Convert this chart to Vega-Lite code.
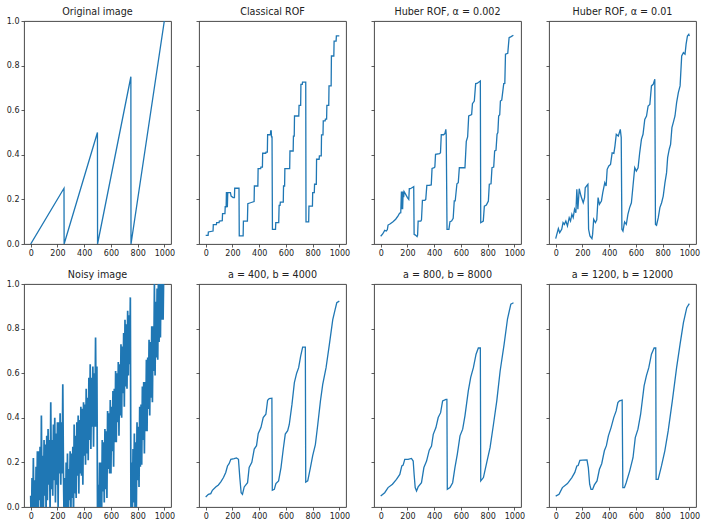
{
  "$schema": "https://vega.github.io/schema/vega-lite/v6.json",
  "padding": {"left": 5, "top": 6, "right": 5, "bottom": 5},
  "background": "white",
  "config": {
    "view": {"stroke": "#333333", "strokeWidth": 0.9},
    "axis": {"grid": false, "domain": false, "tickColor": "#333333", "tickSize": 3, "tickWidth": 0.8, "labelFont": "DejaVu Sans", "labelFontSize": 8, "labelColor": "#222222", "labelPadding": 2, "title": null},
    "title": {"font": "DejaVu Sans", "fontSize": 9.6, "fontWeight": "normal", "color": "#222222", "offset": 4},
    "line": {"color": "#1f77b4", "strokeWidth": 1.3}
  },
  "datasets": {
    "orig": [
      {"x": 0, "y": 0}, {"x": 249, "y": 0.25}, {"x": 250, "y": 0}, {"x": 499, "y": 0.5},
      {"x": 500, "y": 0}, {"x": 749, "y": 0.75}, {"x": 750, "y": 0}, {"x": 999, "y": 1.0}
    ],
    "noisy": [
      {"x": 0, "y": 0.05}, {"x": 5, "y": -0.12}, {"x": 10, "y": 0.13}, {"x": 15, "y": -0.07}, {"x": 20, "y": 0.22},
      {"x": 25, "y": -0.08}, {"x": 30, "y": 0.12}, {"x": 35, "y": -0.12}, {"x": 40, "y": 0.18}, {"x": 45, "y": 0.0},
      {"x": 50, "y": 0.25}, {"x": 55, "y": -0.07}, {"x": 60, "y": 0.25}, {"x": 65, "y": 0.03}, {"x": 70, "y": 0.27},
      {"x": 75, "y": -0.09}, {"x": 80, "y": 0.41}, {"x": 85, "y": 0.0}, {"x": 90, "y": 0.23}, {"x": 95, "y": -0.04},
      {"x": 100, "y": 0.3}, {"x": 105, "y": 0.05}, {"x": 110, "y": 0.28}, {"x": 115, "y": -0.04}, {"x": 120, "y": 0.32},
      {"x": 125, "y": 0.03}, {"x": 130, "y": 0.35}, {"x": 135, "y": 0.1}, {"x": 140, "y": 0.3}, {"x": 145, "y": -0.03},
      {"x": 150, "y": 0.47}, {"x": 155, "y": 0.08}, {"x": 160, "y": 0.3}, {"x": 165, "y": 0.05}, {"x": 170, "y": 0.37},
      {"x": 175, "y": 0.12}, {"x": 180, "y": 0.4}, {"x": 185, "y": 0.02}, {"x": 190, "y": 0.33}, {"x": 195, "y": 0.1},
      {"x": 200, "y": 0.38}, {"x": 205, "y": 0.0}, {"x": 210, "y": 0.38}, {"x": 215, "y": 0.15}, {"x": 220, "y": 0.42},
      {"x": 225, "y": 0.1}, {"x": 230, "y": 0.38}, {"x": 235, "y": 0.15}, {"x": 240, "y": 0.55}, {"x": 245, "y": 0.15},
      {"x": 250, "y": -0.08}, {"x": 255, "y": 0.13}, {"x": 260, "y": -0.13}, {"x": 265, "y": 0.2}, {"x": 270, "y": -0.06},
      {"x": 275, "y": 0.24}, {"x": 280, "y": -0.08}, {"x": 285, "y": 0.17}, {"x": 290, "y": 0.03}, {"x": 295, "y": 0.25},
      {"x": 300, "y": -0.08}, {"x": 305, "y": 0.24}, {"x": 310, "y": 0.04}, {"x": 315, "y": 0.27}, {"x": 320, "y": -0.06},
      {"x": 325, "y": 0.37}, {"x": 330, "y": 0.06}, {"x": 335, "y": 0.32}, {"x": 340, "y": 0.04}, {"x": 345, "y": 0.38},
      {"x": 350, "y": 0.14}, {"x": 355, "y": 0.41}, {"x": 360, "y": 0.06}, {"x": 365, "y": 0.39}, {"x": 370, "y": 0.15},
      {"x": 375, "y": 0.45}, {"x": 380, "y": 0.14}, {"x": 385, "y": 0.44}, {"x": 390, "y": 0.1}, {"x": 395, "y": 0.47},
      {"x": 400, "y": 0.23}, {"x": 405, "y": 0.46}, {"x": 410, "y": 0.19}, {"x": 415, "y": 0.53}, {"x": 420, "y": 0.24},
      {"x": 425, "y": 0.49}, {"x": 430, "y": 0.21}, {"x": 435, "y": 0.58}, {"x": 440, "y": 0.3}, {"x": 445, "y": 0.64},
      {"x": 450, "y": 0.26}, {"x": 455, "y": 0.58}, {"x": 460, "y": 0.36}, {"x": 465, "y": 0.63}, {"x": 470, "y": 0.27},
      {"x": 475, "y": 0.6}, {"x": 480, "y": 0.36}, {"x": 485, "y": 0.76}, {"x": 490, "y": 0.36}, {"x": 495, "y": 0.63},
      {"x": 500, "y": -0.1}, {"x": 505, "y": 0.1}, {"x": 510, "y": -0.11}, {"x": 515, "y": 0.2}, {"x": 520, "y": -0.03},
      {"x": 525, "y": 0.2}, {"x": 530, "y": -0.07}, {"x": 535, "y": 0.3}, {"x": 540, "y": 0.07}, {"x": 545, "y": 0.29},
      {"x": 550, "y": 0.02}, {"x": 555, "y": 0.35}, {"x": 560, "y": 0.08}, {"x": 565, "y": 0.34}, {"x": 570, "y": 0.04},
      {"x": 575, "y": 0.43}, {"x": 580, "y": 0.17}, {"x": 585, "y": 0.42}, {"x": 590, "y": 0.15}, {"x": 595, "y": 0.48},
      {"x": 600, "y": 0.15}, {"x": 605, "y": 0.45}, {"x": 610, "y": 0.25}, {"x": 615, "y": 0.52}, {"x": 620, "y": 0.18},
      {"x": 625, "y": 0.53}, {"x": 630, "y": 0.29}, {"x": 635, "y": 0.61}, {"x": 640, "y": 0.29}, {"x": 645, "y": 0.6},
      {"x": 650, "y": 0.38}, {"x": 655, "y": 0.65}, {"x": 660, "y": 0.32}, {"x": 665, "y": 0.64}, {"x": 670, "y": 0.41},
      {"x": 675, "y": 0.73}, {"x": 680, "y": 0.4}, {"x": 685, "y": 0.72}, {"x": 690, "y": 0.51}, {"x": 695, "y": 0.78},
      {"x": 700, "y": 0.45}, {"x": 705, "y": 0.84}, {"x": 710, "y": 0.54}, {"x": 715, "y": 0.82}, {"x": 720, "y": 0.53},
      {"x": 725, "y": 0.88}, {"x": 730, "y": 0.59}, {"x": 735, "y": 0.86}, {"x": 740, "y": 0.64}, {"x": 745, "y": 0.94},
      {"x": 750, "y": -0.1}, {"x": 755, "y": 0.2}, {"x": 760, "y": -0.08}, {"x": 765, "y": 0.26}, {"x": 770, "y": 0.02},
      {"x": 775, "y": 0.33}, {"x": 780, "y": -0.02}, {"x": 785, "y": 0.29}, {"x": 790, "y": -0.01}, {"x": 795, "y": 0.38},
      {"x": 800, "y": 0.12}, {"x": 805, "y": 0.36}, {"x": 810, "y": 0.09}, {"x": 815, "y": 0.45}, {"x": 820, "y": 0.18},
      {"x": 825, "y": 0.46}, {"x": 830, "y": 0.19}, {"x": 835, "y": 0.54}, {"x": 840, "y": 0.3}, {"x": 845, "y": 0.56},
      {"x": 850, "y": 0.24}, {"x": 855, "y": 0.56}, {"x": 860, "y": 0.34}, {"x": 865, "y": 0.66}, {"x": 870, "y": 0.34},
      {"x": 875, "y": 0.67}, {"x": 880, "y": 0.44}, {"x": 885, "y": 0.75}, {"x": 890, "y": 0.41}, {"x": 895, "y": 0.74},
      {"x": 900, "y": 0.49}, {"x": 905, "y": 0.81}, {"x": 910, "y": 0.47}, {"x": 915, "y": 0.81}, {"x": 920, "y": 0.61},
      {"x": 925, "y": 1.0}, {"x": 930, "y": 0.59}, {"x": 935, "y": 0.92}, {"x": 940, "y": 0.67}, {"x": 945, "y": 0.98},
      {"x": 950, "y": 0.66}, {"x": 955, "y": 1.04}, {"x": 960, "y": 0.74}, {"x": 965, "y": 1.03}, {"x": 970, "y": 0.76},
      {"x": 975, "y": 1.1}, {"x": 980, "y": 0.84}, {"x": 985, "y": 1.09}, {"x": 990, "y": 0.84}, {"x": 995, "y": 1.08}
    ],
    "rof": [
      {"x": 0, "y": 0.039}, {"x": 18, "y": 0.039}, {"x": 20, "y": 0.054}, {"x": 55, "y": 0.058}, {"x": 57, "y": 0.087},
      {"x": 80, "y": 0.087}, {"x": 82, "y": 0.096}, {"x": 100, "y": 0.096}, {"x": 102, "y": 0.103}, {"x": 124, "y": 0.105},
      {"x": 126, "y": 0.136}, {"x": 144, "y": 0.136}, {"x": 146, "y": 0.167}, {"x": 153, "y": 0.167}, {"x": 155, "y": 0.233},
      {"x": 157, "y": 0.17}, {"x": 160, "y": 0.233}, {"x": 162, "y": 0.165}, {"x": 165, "y": 0.23}, {"x": 185, "y": 0.23},
      {"x": 190, "y": 0.215}, {"x": 205, "y": 0.208}, {"x": 215, "y": 0.208}, {"x": 217, "y": 0.25}, {"x": 249, "y": 0.25},
      {"x": 251, "y": 0.036}, {"x": 280, "y": 0.036}, {"x": 282, "y": 0.103}, {"x": 312, "y": 0.103}, {"x": 315, "y": 0.181},
      {"x": 335, "y": 0.185}, {"x": 362, "y": 0.19}, {"x": 364, "y": 0.26}, {"x": 390, "y": 0.26}, {"x": 392, "y": 0.338},
      {"x": 411, "y": 0.338}, {"x": 413, "y": 0.345}, {"x": 424, "y": 0.345}, {"x": 426, "y": 0.407}, {"x": 449, "y": 0.407},
      {"x": 451, "y": 0.412}, {"x": 461, "y": 0.412}, {"x": 463, "y": 0.49}, {"x": 484, "y": 0.49}, {"x": 486, "y": 0.507},
      {"x": 490, "y": 0.507}, {"x": 492, "y": 0.48}, {"x": 496, "y": 0.48}, {"x": 499, "y": 0.066}, {"x": 522, "y": 0.066},
      {"x": 524, "y": 0.096}, {"x": 546, "y": 0.096}, {"x": 549, "y": 0.173}, {"x": 556, "y": 0.173}, {"x": 558, "y": 0.188},
      {"x": 580, "y": 0.188}, {"x": 582, "y": 0.26}, {"x": 590, "y": 0.26}, {"x": 592, "y": 0.338}, {"x": 628, "y": 0.338},
      {"x": 630, "y": 0.417}, {"x": 654, "y": 0.417}, {"x": 656, "y": 0.484}, {"x": 662, "y": 0.484}, {"x": 664, "y": 0.574},
      {"x": 696, "y": 0.574}, {"x": 698, "y": 0.622}, {"x": 710, "y": 0.622}, {"x": 712, "y": 0.716}, {"x": 722, "y": 0.716},
      {"x": 724, "y": 0.726}, {"x": 748, "y": 0.726}, {"x": 750, "y": 0.099}, {"x": 770, "y": 0.099}, {"x": 772, "y": 0.17},
      {"x": 798, "y": 0.17}, {"x": 800, "y": 0.23}, {"x": 812, "y": 0.23}, {"x": 814, "y": 0.268}, {"x": 827, "y": 0.268},
      {"x": 829, "y": 0.38}, {"x": 848, "y": 0.38}, {"x": 850, "y": 0.395}, {"x": 864, "y": 0.395}, {"x": 866, "y": 0.489},
      {"x": 877, "y": 0.489}, {"x": 879, "y": 0.552}, {"x": 893, "y": 0.552}, {"x": 895, "y": 0.56}, {"x": 904, "y": 0.56},
      {"x": 906, "y": 0.622}, {"x": 920, "y": 0.622}, {"x": 922, "y": 0.709}, {"x": 938, "y": 0.709}, {"x": 940, "y": 0.843},
      {"x": 958, "y": 0.843}, {"x": 960, "y": 0.91}, {"x": 975, "y": 0.91}, {"x": 977, "y": 0.933}, {"x": 999, "y": 0.933}
    ],
    "huber002": [
      {"x": 0, "y": 0.035}, {"x": 15, "y": 0.045}, {"x": 30, "y": 0.061}, {"x": 42, "y": 0.058}, {"x": 50, "y": 0.065},
      {"x": 55, "y": 0.085}, {"x": 72, "y": 0.091}, {"x": 92, "y": 0.1}, {"x": 112, "y": 0.111}, {"x": 130, "y": 0.126},
      {"x": 142, "y": 0.139}, {"x": 150, "y": 0.14}, {"x": 155, "y": 0.235}, {"x": 158, "y": 0.156}, {"x": 161, "y": 0.235},
      {"x": 164, "y": 0.156}, {"x": 168, "y": 0.235}, {"x": 172, "y": 0.21}, {"x": 175, "y": 0.235}, {"x": 185, "y": 0.225},
      {"x": 200, "y": 0.208}, {"x": 210, "y": 0.2}, {"x": 214, "y": 0.248}, {"x": 222, "y": 0.248}, {"x": 247, "y": 0.257},
      {"x": 250, "y": 0.043}, {"x": 260, "y": 0.04}, {"x": 272, "y": 0.033}, {"x": 276, "y": 0.04}, {"x": 280, "y": 0.103},
      {"x": 300, "y": 0.103}, {"x": 305, "y": 0.108}, {"x": 312, "y": 0.196}, {"x": 330, "y": 0.196}, {"x": 337, "y": 0.2},
      {"x": 345, "y": 0.263}, {"x": 362, "y": 0.263}, {"x": 378, "y": 0.265}, {"x": 384, "y": 0.339}, {"x": 400, "y": 0.342},
      {"x": 405, "y": 0.345}, {"x": 410, "y": 0.402}, {"x": 440, "y": 0.405}, {"x": 447, "y": 0.409}, {"x": 453, "y": 0.49},
      {"x": 470, "y": 0.49}, {"x": 480, "y": 0.495}, {"x": 487, "y": 0.514}, {"x": 490, "y": 0.49}, {"x": 496, "y": 0.066},
      {"x": 510, "y": 0.066}, {"x": 518, "y": 0.1}, {"x": 530, "y": 0.103}, {"x": 542, "y": 0.115}, {"x": 550, "y": 0.193},
      {"x": 557, "y": 0.193}, {"x": 570, "y": 0.27}, {"x": 580, "y": 0.275}, {"x": 588, "y": 0.342}, {"x": 630, "y": 0.342},
      {"x": 640, "y": 0.46}, {"x": 650, "y": 0.48}, {"x": 658, "y": 0.574}, {"x": 680, "y": 0.58}, {"x": 686, "y": 0.629},
      {"x": 700, "y": 0.641}, {"x": 710, "y": 0.719}, {"x": 720, "y": 0.72}, {"x": 745, "y": 0.731}, {"x": 748, "y": 0.096},
      {"x": 760, "y": 0.1}, {"x": 767, "y": 0.103}, {"x": 775, "y": 0.17}, {"x": 790, "y": 0.175}, {"x": 805, "y": 0.193},
      {"x": 812, "y": 0.268}, {"x": 825, "y": 0.27}, {"x": 832, "y": 0.342}, {"x": 845, "y": 0.345}, {"x": 852, "y": 0.417},
      {"x": 862, "y": 0.42}, {"x": 870, "y": 0.492}, {"x": 876, "y": 0.5}, {"x": 882, "y": 0.574}, {"x": 890, "y": 0.58},
      {"x": 895, "y": 0.641}, {"x": 905, "y": 0.645}, {"x": 920, "y": 0.719}, {"x": 928, "y": 0.72}, {"x": 933, "y": 0.851},
      {"x": 950, "y": 0.855}, {"x": 960, "y": 0.925}, {"x": 975, "y": 0.93}, {"x": 992, "y": 0.936}
    ],
    "huber01": [
      {"x": 0, "y": 0.024}, {"x": 20, "y": 0.069}, {"x": 30, "y": 0.051}, {"x": 45, "y": 0.066}, {"x": 55, "y": 0.096},
      {"x": 65, "y": 0.088}, {"x": 76, "y": 0.103}, {"x": 88, "y": 0.081}, {"x": 101, "y": 0.118}, {"x": 111, "y": 0.103},
      {"x": 121, "y": 0.133}, {"x": 131, "y": 0.118}, {"x": 141, "y": 0.156}, {"x": 151, "y": 0.14}, {"x": 158, "y": 0.245},
      {"x": 166, "y": 0.156}, {"x": 176, "y": 0.248}, {"x": 189, "y": 0.215}, {"x": 206, "y": 0.185}, {"x": 216, "y": 0.208},
      {"x": 221, "y": 0.252}, {"x": 234, "y": 0.263}, {"x": 241, "y": 0.268}, {"x": 246, "y": 0.066}, {"x": 256, "y": 0.036},
      {"x": 271, "y": 0.024}, {"x": 276, "y": 0.043}, {"x": 284, "y": 0.111}, {"x": 297, "y": 0.096}, {"x": 307, "y": 0.108},
      {"x": 317, "y": 0.208}, {"x": 327, "y": 0.178}, {"x": 342, "y": 0.193}, {"x": 352, "y": 0.23}, {"x": 367, "y": 0.275},
      {"x": 377, "y": 0.26}, {"x": 385, "y": 0.335}, {"x": 397, "y": 0.35}, {"x": 410, "y": 0.357}, {"x": 422, "y": 0.409},
      {"x": 435, "y": 0.406}, {"x": 443, "y": 0.439}, {"x": 453, "y": 0.492}, {"x": 468, "y": 0.484}, {"x": 483, "y": 0.514},
      {"x": 490, "y": 0.477}, {"x": 495, "y": 0.066}, {"x": 503, "y": 0.058}, {"x": 515, "y": 0.099}, {"x": 528, "y": 0.088},
      {"x": 540, "y": 0.133}, {"x": 553, "y": 0.163}, {"x": 566, "y": 0.185}, {"x": 578, "y": 0.26}, {"x": 591, "y": 0.342},
      {"x": 603, "y": 0.327}, {"x": 616, "y": 0.342}, {"x": 628, "y": 0.409}, {"x": 641, "y": 0.469}, {"x": 653, "y": 0.492},
      {"x": 666, "y": 0.559}, {"x": 679, "y": 0.574}, {"x": 691, "y": 0.619}, {"x": 704, "y": 0.626}, {"x": 716, "y": 0.709},
      {"x": 729, "y": 0.716}, {"x": 741, "y": 0.739}, {"x": 746, "y": 0.088}, {"x": 754, "y": 0.084}, {"x": 767, "y": 0.118},
      {"x": 779, "y": 0.163}, {"x": 792, "y": 0.185}, {"x": 804, "y": 0.215}, {"x": 817, "y": 0.275}, {"x": 829, "y": 0.32},
      {"x": 837, "y": 0.387}, {"x": 849, "y": 0.425}, {"x": 859, "y": 0.447}, {"x": 869, "y": 0.522}, {"x": 879, "y": 0.544},
      {"x": 892, "y": 0.574}, {"x": 904, "y": 0.634}, {"x": 917, "y": 0.679}, {"x": 930, "y": 0.709}, {"x": 942, "y": 0.843},
      {"x": 955, "y": 0.858}, {"x": 967, "y": 0.851}, {"x": 975, "y": 0.896}, {"x": 985, "y": 0.933}, {"x": 995, "y": 0.94},
      {"x": 999, "y": 0.932}
    ],
    "a400": [
      {"x": 0, "y": 0.045}, {"x": 20, "y": 0.057}, {"x": 38, "y": 0.06}, {"x": 50, "y": 0.075}, {"x": 75, "y": 0.09},
      {"x": 95, "y": 0.099}, {"x": 113, "y": 0.113}, {"x": 133, "y": 0.132}, {"x": 150, "y": 0.155}, {"x": 163, "y": 0.184},
      {"x": 175, "y": 0.194}, {"x": 188, "y": 0.214}, {"x": 213, "y": 0.217}, {"x": 230, "y": 0.22}, {"x": 245, "y": 0.214},
      {"x": 255, "y": 0.132}, {"x": 265, "y": 0.064}, {"x": 275, "y": 0.057}, {"x": 288, "y": 0.09}, {"x": 313, "y": 0.109},
      {"x": 325, "y": 0.177}, {"x": 345, "y": 0.2}, {"x": 363, "y": 0.26}, {"x": 380, "y": 0.275}, {"x": 393, "y": 0.33},
      {"x": 413, "y": 0.356}, {"x": 430, "y": 0.401}, {"x": 450, "y": 0.416}, {"x": 463, "y": 0.479}, {"x": 475, "y": 0.486},
      {"x": 495, "y": 0.488}, {"x": 498, "y": 0.075}, {"x": 513, "y": 0.079}, {"x": 525, "y": 0.105}, {"x": 545, "y": 0.117},
      {"x": 563, "y": 0.177}, {"x": 580, "y": 0.26}, {"x": 595, "y": 0.327}, {"x": 613, "y": 0.342}, {"x": 625, "y": 0.37},
      {"x": 645, "y": 0.46}, {"x": 663, "y": 0.558}, {"x": 680, "y": 0.6}, {"x": 695, "y": 0.625}, {"x": 710, "y": 0.677},
      {"x": 725, "y": 0.717}, {"x": 745, "y": 0.717}, {"x": 748, "y": 0.112}, {"x": 763, "y": 0.117}, {"x": 783, "y": 0.177},
      {"x": 800, "y": 0.23}, {"x": 820, "y": 0.28}, {"x": 838, "y": 0.37}, {"x": 858, "y": 0.476}, {"x": 875, "y": 0.55},
      {"x": 900, "y": 0.625}, {"x": 925, "y": 0.73}, {"x": 950, "y": 0.84}, {"x": 968, "y": 0.886}, {"x": 980, "y": 0.916},
      {"x": 999, "y": 0.923}
    ],
    "a800": [
      {"x": 0, "y": 0.049}, {"x": 30, "y": 0.064}, {"x": 55, "y": 0.087}, {"x": 88, "y": 0.102}, {"x": 118, "y": 0.124},
      {"x": 143, "y": 0.146}, {"x": 158, "y": 0.184}, {"x": 168, "y": 0.188}, {"x": 180, "y": 0.214}, {"x": 205, "y": 0.214},
      {"x": 230, "y": 0.218}, {"x": 243, "y": 0.206}, {"x": 250, "y": 0.146}, {"x": 258, "y": 0.087}, {"x": 268, "y": 0.072},
      {"x": 280, "y": 0.09}, {"x": 305, "y": 0.109}, {"x": 323, "y": 0.177}, {"x": 343, "y": 0.206}, {"x": 363, "y": 0.255},
      {"x": 380, "y": 0.273}, {"x": 393, "y": 0.326}, {"x": 413, "y": 0.356}, {"x": 430, "y": 0.401}, {"x": 448, "y": 0.423},
      {"x": 463, "y": 0.476}, {"x": 488, "y": 0.483}, {"x": 495, "y": 0.483}, {"x": 498, "y": 0.079}, {"x": 518, "y": 0.087},
      {"x": 538, "y": 0.109}, {"x": 555, "y": 0.177}, {"x": 573, "y": 0.237}, {"x": 593, "y": 0.319}, {"x": 613, "y": 0.349},
      {"x": 630, "y": 0.409}, {"x": 655, "y": 0.521}, {"x": 673, "y": 0.581}, {"x": 693, "y": 0.625}, {"x": 713, "y": 0.685},
      {"x": 730, "y": 0.713}, {"x": 745, "y": 0.713}, {"x": 748, "y": 0.117}, {"x": 768, "y": 0.132}, {"x": 793, "y": 0.2},
      {"x": 818, "y": 0.267}, {"x": 843, "y": 0.37}, {"x": 868, "y": 0.476}, {"x": 893, "y": 0.61}, {"x": 923, "y": 0.73},
      {"x": 948, "y": 0.843}, {"x": 973, "y": 0.91}, {"x": 993, "y": 0.916}
    ],
    "a1200": [
      {"x": 0, "y": 0.049}, {"x": 25, "y": 0.057}, {"x": 50, "y": 0.087}, {"x": 88, "y": 0.105}, {"x": 121, "y": 0.132},
      {"x": 143, "y": 0.155}, {"x": 158, "y": 0.184}, {"x": 168, "y": 0.186}, {"x": 181, "y": 0.209}, {"x": 201, "y": 0.21},
      {"x": 234, "y": 0.211}, {"x": 244, "y": 0.177}, {"x": 254, "y": 0.102}, {"x": 264, "y": 0.079}, {"x": 276, "y": 0.079},
      {"x": 289, "y": 0.099}, {"x": 309, "y": 0.117}, {"x": 327, "y": 0.169}, {"x": 344, "y": 0.194}, {"x": 364, "y": 0.252},
      {"x": 379, "y": 0.275}, {"x": 394, "y": 0.319}, {"x": 414, "y": 0.356}, {"x": 434, "y": 0.401}, {"x": 452, "y": 0.431},
      {"x": 465, "y": 0.468}, {"x": 477, "y": 0.476}, {"x": 497, "y": 0.479}, {"x": 502, "y": 0.087}, {"x": 514, "y": 0.087},
      {"x": 527, "y": 0.109}, {"x": 553, "y": 0.161}, {"x": 578, "y": 0.221}, {"x": 595, "y": 0.311}, {"x": 615, "y": 0.349},
      {"x": 635, "y": 0.416}, {"x": 661, "y": 0.543}, {"x": 678, "y": 0.588}, {"x": 696, "y": 0.625}, {"x": 716, "y": 0.685},
      {"x": 736, "y": 0.713}, {"x": 748, "y": 0.713}, {"x": 751, "y": 0.124}, {"x": 766, "y": 0.124}, {"x": 791, "y": 0.184},
      {"x": 816, "y": 0.252}, {"x": 841, "y": 0.341}, {"x": 872, "y": 0.476}, {"x": 904, "y": 0.625}, {"x": 930, "y": 0.73},
      {"x": 955, "y": 0.827}, {"x": 980, "y": 0.894}, {"x": 999, "y": 0.912}
    ]
  },
  "spacing": {"row": 40, "column": 28},
  "columns": 4,
  "bounds": "flush",
  "concat": [
    {
      "title": {"text": "Original image", "offset": 0}, "width": 147, "height": 223, "data": {"name": "orig"},
      "mark": {"type": "line", "clip": true},
      "encoding": {
        "x": {"field": "x", "type": "quantitative", "scale": {"domain": [-50, 1049], "nice": false, "zero": false}, "axis": {"values": [0, 200, 400, 600, 800, 1000], "format": "d"}},
        "y": {"field": "y", "type": "quantitative", "scale": {"domain": [0, 1], "nice": false}, "axis": {"values": [0, 0.2, 0.4, 0.6, 0.8, 1], "format": ".1f"}}
      }
    },
    {
      "title": "Classical ROF", "width": 147, "height": 223, "data": {"name": "rof"},
      "mark": {"type": "line", "clip": true},
      "encoding": {
        "x": {"field": "x", "type": "quantitative", "scale": {"domain": [-50, 1049], "nice": false, "zero": false}, "axis": {"values": [0, 200, 400, 600, 800, 1000], "format": "d"}},
        "y": {"field": "y", "type": "quantitative", "scale": {"domain": [0, 1], "nice": false}, "axis": {"values": [0, 0.2, 0.4, 0.6, 0.8, 1], "labels": false}}
      }
    },
    {
      "title": "Huber ROF, α = 0.002", "width": 147, "height": 223, "data": {"name": "huber002"},
      "mark": {"type": "line", "clip": true},
      "encoding": {
        "x": {"field": "x", "type": "quantitative", "scale": {"domain": [-50, 1049], "nice": false, "zero": false}, "axis": {"values": [0, 200, 400, 600, 800, 1000], "format": "d"}},
        "y": {"field": "y", "type": "quantitative", "scale": {"domain": [0, 1], "nice": false}, "axis": {"values": [0, 0.2, 0.4, 0.6, 0.8, 1], "labels": false}}
      }
    },
    {
      "title": "Huber ROF, α = 0.01", "width": 147, "height": 223, "data": {"name": "huber01"},
      "mark": {"type": "line", "clip": true},
      "encoding": {
        "x": {"field": "x", "type": "quantitative", "scale": {"domain": [-50, 1049], "nice": false, "zero": false}, "axis": {"values": [0, 200, 400, 600, 800, 1000], "format": "d"}},
        "y": {"field": "y", "type": "quantitative", "scale": {"domain": [0, 1], "nice": false}, "axis": {"values": [0, 0.2, 0.4, 0.6, 0.8, 1], "labels": false}}
      }
    },
    {
      "title": {"text": "Noisy image", "offset": 0}, "width": 147, "height": 223, "data": {"name": "noisy"},
      "mark": {"type": "line", "clip": true, "strokeWidth": 1.7},
      "encoding": {
        "x": {"field": "x", "type": "quantitative", "scale": {"domain": [-50, 1049], "nice": false, "zero": false}, "axis": {"values": [0, 200, 400, 600, 800, 1000], "format": "d"}},
        "y": {"field": "y", "type": "quantitative", "scale": {"domain": [0, 1], "nice": false}, "axis": {"values": [0, 0.2, 0.4, 0.6, 0.8, 1], "format": ".1f"}}
      }
    },
    {
      "title": "a = 400, b = 4000", "width": 147, "height": 223, "data": {"name": "a400"},
      "mark": {"type": "line", "clip": true},
      "encoding": {
        "x": {"field": "x", "type": "quantitative", "scale": {"domain": [-50, 1049], "nice": false, "zero": false}, "axis": {"values": [0, 200, 400, 600, 800, 1000], "format": "d"}},
        "y": {"field": "y", "type": "quantitative", "scale": {"domain": [0, 1], "nice": false}, "axis": {"values": [0, 0.2, 0.4, 0.6, 0.8, 1], "labels": false}}
      }
    },
    {
      "title": "a = 800, b = 8000", "width": 147, "height": 223, "data": {"name": "a800"},
      "mark": {"type": "line", "clip": true},
      "encoding": {
        "x": {"field": "x", "type": "quantitative", "scale": {"domain": [-50, 1049], "nice": false, "zero": false}, "axis": {"values": [0, 200, 400, 600, 800, 1000], "format": "d"}},
        "y": {"field": "y", "type": "quantitative", "scale": {"domain": [0, 1], "nice": false}, "axis": {"values": [0, 0.2, 0.4, 0.6, 0.8, 1], "labels": false}}
      }
    },
    {
      "title": "a = 1200, b = 12000", "width": 147, "height": 223, "data": {"name": "a1200"},
      "mark": {"type": "line", "clip": true},
      "encoding": {
        "x": {"field": "x", "type": "quantitative", "scale": {"domain": [-50, 1049], "nice": false, "zero": false}, "axis": {"values": [0, 200, 400, 600, 800, 1000], "format": "d"}},
        "y": {"field": "y", "type": "quantitative", "scale": {"domain": [0, 1], "nice": false}, "axis": {"values": [0, 0.2, 0.4, 0.6, 0.8, 1], "labels": false}}
      }
    }
  ]
}
